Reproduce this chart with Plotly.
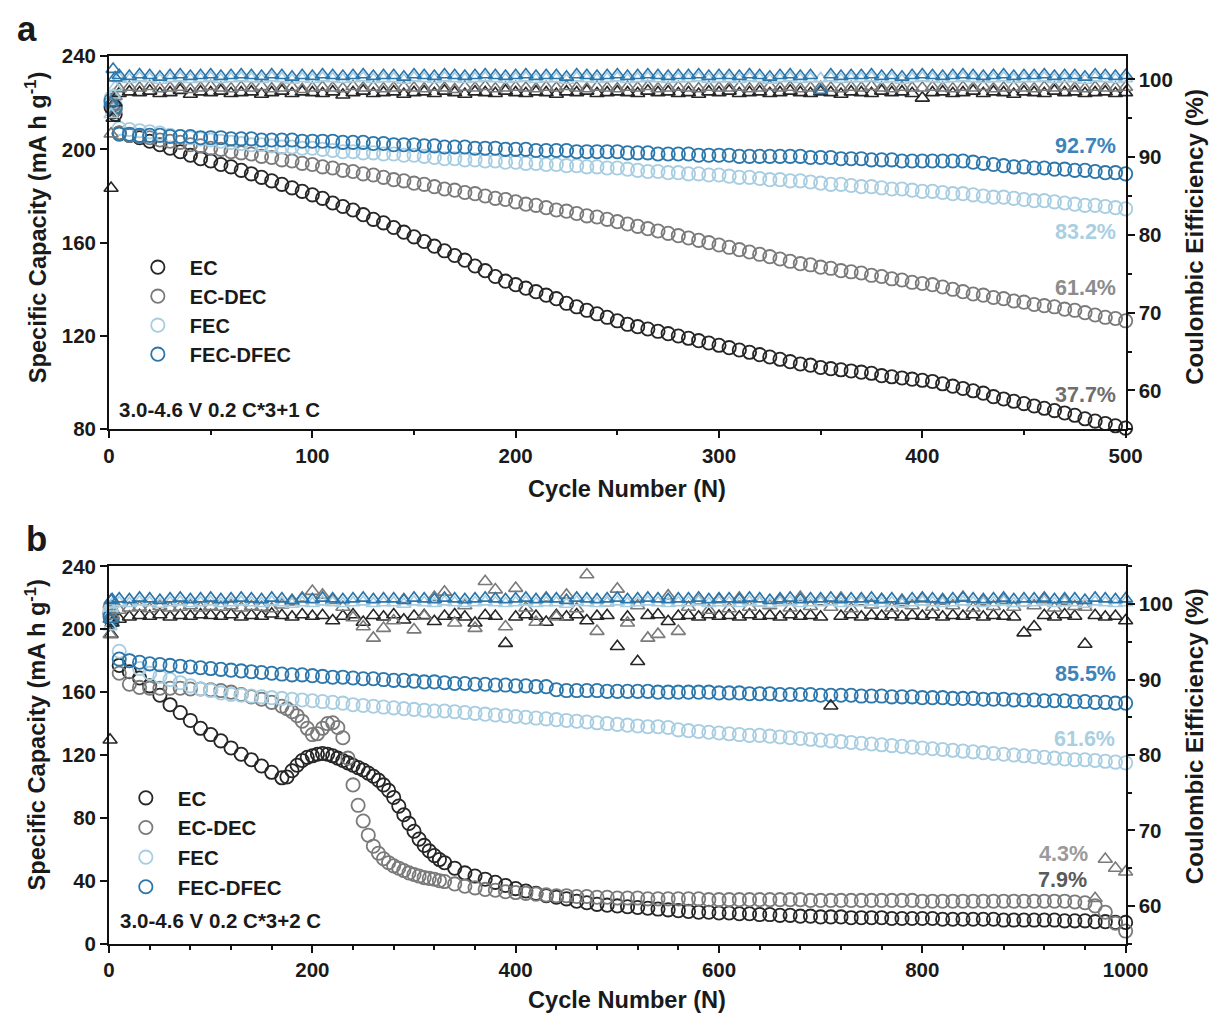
import plotly.graph_objects as go

# ---------------- DATA ----------------
SERIES = ["EC", "EC-DEC", "FEC", "FEC-DFEC"]

# Panel a : 3.0-4.6 V, 0.2 C*3 + 1 C, 500 cycles
CYC_A = [1, 2, 3] + list(range(5, 501, 5))

CAP_A_EC = [218, 216, 215,
    207, 206, 205, 203.5, 202, 200.5, 199, 197.5, 196, 195,
    193.5, 192.5, 191, 189.5, 188, 186.5, 185, 183.5, 182, 180.5,
    179, 177, 175.5, 174, 172, 170, 168.5, 166.5, 164.5, 162.5,
    160.5, 158.5, 156.5, 154.5, 152.5, 150, 148, 145.5, 143.5, 142,
    140.5, 139, 137.5, 136, 134, 132.5, 131, 129.5, 128, 126.5,
    125, 124, 123, 122, 121, 120, 119, 118, 117, 116,
    115, 114, 113, 112, 111, 110, 109, 108, 107.5, 106.5,
    106, 105.5, 105, 104.5, 104, 103, 102.5, 102, 101.5, 101,
    100.5, 99.5, 98.5, 97.5, 96.5, 95.5, 94, 93, 92, 91,
    90, 89, 88, 87, 86, 84.5, 83.5, 82.5, 81.5, 80.5]
CAP_A_ECDEC = [220, 218, 217,
    207, 206, 205.5, 205, 204, 203.5, 203, 202, 201.5, 200.5,
    200, 199, 198.5, 198, 197, 196.5, 195.5, 195, 194, 193.5,
    192.5, 192, 191, 190.5, 189.5, 189, 188, 187, 186.5, 185.5,
    185, 184, 183, 182.5, 181.5, 181, 180, 179, 178.5, 177.5,
    176.5, 176, 175, 174, 173.5, 172.5, 171.5, 171, 170, 169,
    168, 167, 166, 165, 164, 163, 162, 161, 160, 159,
    158, 157, 156, 155, 154, 153, 152, 151, 150.5, 149.5,
    149, 148, 147.5, 147, 146, 145.5, 144.5, 144, 143, 142.5,
    142, 141, 140, 139, 138, 137.5, 136.5, 136, 135, 134.5,
    133.5, 133, 132.5, 131.5, 131, 130, 129, 128, 127.5, 126.5]
CAP_A_FEC = [222, 220, 219,
    209, 208.5, 208, 207.5, 207, 206, 205.5, 205, 204.5, 204,
    203.5, 203, 202.5, 202, 202, 201.5, 201, 201, 200.5, 200.5,
    200, 199.5, 199, 199, 198.5, 198.5, 198, 198, 197.5, 197.5,
    197, 196.5, 196, 196, 195.5, 195.5, 195, 195, 194.5, 194.5,
    194, 194, 193.5, 193.5, 193, 193, 192.5, 192.5, 192, 192,
    191.5, 191, 190.5, 190.5, 190, 190, 189.5, 189.5, 189, 189,
    188.5, 188, 188, 187.5, 187, 187, 186.5, 186.5, 186, 185.5,
    185, 185, 184.5, 184, 184, 183.5, 183, 183, 182.5, 182,
    182, 181.5, 181, 181, 180.5, 180, 179.5, 179.5, 179, 178.5,
    178, 178, 177.5, 177, 176.5, 176, 176, 175.5, 175, 174.5]
CAP_A_FECDFEC = [221, 219, 218,
    206.5, 206.5, 206, 206, 206, 205.5, 205.5, 205.5, 205, 205,
    205, 204.5, 204.5, 204.5, 204, 204, 204, 204, 203.5, 203.5,
    203.5, 203.5, 203, 203, 203, 202.5, 202.5, 202, 202, 202,
    201.5, 201.5, 201, 201, 201, 200.5, 200.5, 200.5, 200, 200,
    200, 199.5, 199.5, 199.5, 199.5, 199, 199, 199, 199, 199,
    198.5, 198.5, 198.5, 198, 198, 198, 198, 197.5, 197.5, 197.5,
    197.5, 197, 197, 197, 197, 197, 197, 197, 196.5, 196.5,
    196.5, 196, 196, 196, 195.5, 195.5, 195.5, 195, 195, 195,
    195, 195, 195, 195, 194.5, 194, 193.5, 193, 192.5, 192.5,
    192, 192, 191.5, 191.5, 191, 191, 190.5, 190, 190, 189.5]

CE_A_EC = [86.0, 95.0, 97.0,
    98.2, 98.4, 98.3, 98.5, 98.2, 98.3, 98.6, 98.1, 98.4, 98.3,
    98.5, 98.2, 98.3, 98.4, 98.1, 98.3, 98.5, 98.2, 98.4, 98.3,
    98.2, 98.4, 98.0, 98.3, 98.5, 98.2, 98.3, 98.4, 98.1, 98.3,
    98.4, 98.2, 98.5, 98.3, 98.1, 98.4, 98.3, 98.2, 98.5, 98.3,
    98.2, 98.4, 98.3, 98.1, 98.4, 98.3, 98.5, 98.2, 98.3, 98.4,
    98.3, 98.2, 98.5, 98.3, 98.4, 98.2, 98.3, 98.1, 98.4, 98.3,
    98.5, 98.2, 98.3, 98.4, 98.2, 98.3, 98.5, 98.3, 98.2, 98.4,
    98.3, 98.1, 98.4, 98.3, 98.2, 98.5, 98.3, 98.4, 98.2, 97.6,
    98.3, 98.4, 98.2, 98.3, 98.5, 98.2, 98.4, 98.3, 98.1, 98.4,
    98.3, 98.2, 98.5, 98.3, 98.4, 98.2, 98.3, 98.4, 98.2, 98.3]
CE_A_ECDEC = [93.0, 96.5, 97.8,
    98.8, 99.0, 98.9, 99.1, 98.8, 98.9, 99.0, 98.7, 98.9, 99.1,
    98.9, 98.8, 99.0, 98.9, 99.1, 98.8, 98.9, 99.0, 98.7, 98.9,
    99.0, 98.9, 98.8, 99.1, 98.9, 99.0, 98.8, 98.9, 99.0, 98.9,
    98.8, 99.0, 98.9, 98.7, 99.0, 98.9, 99.1, 98.8, 98.9, 99.0,
    98.9, 98.8, 99.0, 98.9, 99.1, 98.9, 98.8, 99.0, 98.9, 98.8,
    99.0, 98.9, 99.1, 98.8, 98.9, 99.0, 98.9, 98.8, 99.0, 98.9,
    98.9, 99.0, 98.8, 98.9, 99.1, 98.9, 99.0, 98.8, 98.9, 99.0,
    98.9, 98.8, 99.0, 98.9, 99.1, 98.9, 98.8, 99.0, 98.9, 98.9,
    99.0, 98.9, 98.8, 99.0, 98.9, 99.1, 98.8, 98.9, 99.0, 98.9,
    98.8, 99.0, 98.9, 99.1, 98.9, 98.8, 99.0, 98.9, 98.9, 99.0]
CE_A_FEC = [95.5, 98.0, 99.0,
    100.1, 100.0, 100.2, 100.1, 99.9, 100.1, 100.2, 100.0, 100.1, 100.2,
    100.0, 100.1, 100.2, 100.1, 100.0, 100.2, 100.1, 99.9, 100.1, 100.0,
    100.2, 100.1, 100.0, 100.1, 100.2, 100.0, 100.1, 100.1, 99.9, 100.2,
    100.1, 100.0, 100.2, 100.1, 100.0, 100.1, 100.2, 100.1, 100.0, 100.1,
    100.2, 100.0, 100.1, 100.1, 99.9, 100.2, 100.1, 100.0, 100.1, 100.2,
    100.0, 100.1, 100.2, 100.1, 100.0, 100.1, 100.1, 100.2, 100.0, 100.1,
    100.1, 100.0, 100.2, 100.1, 99.9, 100.1, 100.2, 100.0, 100.1, 100.1,
    100.2, 100.0, 100.1, 100.1, 100.2, 100.0, 100.1, 99.9, 100.1, 100.2,
    100.1, 100.0, 100.1, 100.2, 100.1, 100.0, 100.1, 100.2, 100.0, 100.1,
    100.1, 100.2, 100.0, 100.1, 100.1, 99.9, 100.2, 100.1, 100.0, 100.1]
CE_A_FECDFEC = [97.0, 101.3, 100.2,
    100.5, 100.4, 100.6, 100.5, 100.3, 100.5, 100.6, 100.4, 100.5, 100.6,
    100.4, 100.5, 100.6, 100.5, 100.4, 100.6, 100.5, 100.3, 100.5, 100.4,
    100.6, 100.5, 100.4, 100.5, 100.6, 100.4, 100.5, 100.5, 100.3, 100.6,
    100.5, 100.4, 100.6, 100.5, 100.4, 100.5, 100.6, 100.5, 100.4, 100.5,
    100.6, 100.4, 100.5, 100.5, 100.3, 100.6, 100.5, 100.4, 100.5, 100.6,
    100.4, 100.5, 100.6, 100.5, 100.4, 100.5, 100.5, 100.6, 100.4, 100.5,
    100.5, 100.4, 100.6, 100.5, 100.3, 100.5, 100.6, 100.4, 100.5, 98.6,
    100.6, 100.4, 100.5, 100.5, 100.6, 100.4, 100.5, 100.3, 100.5, 100.6,
    100.5, 100.4, 100.5, 100.6, 100.5, 100.4, 100.5, 100.6, 100.4, 100.5,
    100.5, 100.6, 100.4, 100.5, 100.5, 100.3, 100.6, 100.5, 100.4, 100.5]

# Panel b : 3.0-4.6 V, 0.2 C*3 + 2 C, 1000 cycles
# EC / EC-DEC are read more finely (every 5 cycles) where they fall steeply
CYC_B_FINE = [1, 2, 3] + list(range(10, 170, 10)) + list(range(170, 330, 5)) + list(range(330, 1001, 10))
CYC_B = [1, 2, 3] + list(range(10, 1001, 10))

CAP_B_EC = [210, 208, 207,
    177, 173, 169, 164, 158, 152, 147, 142, 137, 133, 129, 124.5, 120.5, 117, 113, 109,
    105.5, 106, 110, 113.5, 116.5, 118.5, 119.5, 120.5, 121, 120.5,
    119.5, 118, 116.5, 115, 113.5, 112, 110.5, 108.5, 106.5, 104,
    101, 97.5, 93, 87.5, 82, 76.5, 71.5, 66.5, 62.5, 59,
    56, 53.5,
    51.5, 48, 45, 43, 41, 39, 37, 35, 33.5, 32,
    30.5, 29.5, 28.5, 27, 26, 25, 24.5, 24, 23.5, 23,
    22.5, 22, 21.5, 21, 20.5, 20, 20, 19.5, 19.5, 19,
    19, 18.5, 18.5, 18, 18, 17.5, 17.5, 17, 17, 17,
    16.5, 16.5, 16.5, 16.5, 16, 16, 16, 16, 16, 15.5,
    15.5, 15.5, 15.5, 15.5, 15.5, 15, 15, 15, 15, 15,
    15, 14.5, 14.5, 14.5, 14, 14, 13.5, 13.5]
CAP_B_ECDEC = [214, 211, 210,
    172, 165, 163, 162.5, 162.5, 162.5, 162.5, 162, 162, 161.5, 161, 160, 158.5, 157, 155.5, 153.5,
    151, 149.5, 147.5, 145, 141.5, 137, 133, 133.5, 137, 140,
    140.5, 137.5, 131, 118, 101, 88, 78, 69, 62, 57.5,
    54, 51.5, 49.5, 48, 46.5, 45, 44, 43, 42, 41.5,
    41, 40,
    39.5, 38, 36.5, 35.5, 34.5, 34, 33, 32.5, 32, 31.5,
    31, 30.5, 30.5, 30, 30, 29.5, 29.5, 29, 29, 29,
    28.5, 28.5, 28.5, 28.5, 28.5, 28.5, 28, 28, 28, 28,
    28, 28, 28, 28, 28, 28, 27.5, 27.5, 27.5, 27.5,
    27.5, 27.5, 27.5, 27.5, 27.5, 27.5, 27.5, 27, 27, 27,
    27, 27, 27, 27, 27, 27, 27, 27, 27, 27,
    27, 27, 26.5, 26, 24, 20, 13, 8]
CAP_B_FEC = [212, 210, 209,
    186, 180, 175, 172, 170, 168, 166, 164, 162, 161, 159.5, 158.5, 158, 157.5, 157, 156.5,
    156, 155.5, 155, 154.5, 154, 153.5, 153, 152, 151.5, 151,
    150.5, 150, 149.5, 149, 148.5, 148,
    148, 147.5, 147, 146.5, 146, 145.5, 145, 144.5, 144, 143.5,
    143, 142.5, 142, 141.5, 141, 140.5, 140, 139.5, 139, 138.5,
    138, 138, 137.5, 136, 135.5, 135, 134.5, 134, 133.5, 133,
    132.5, 132.5, 132, 131.5, 131, 130.5, 130, 129.5, 129, 128.5,
    128, 127.5, 127, 126.5, 126, 125.5, 125, 124.5, 124, 123.5,
    123, 122.5, 122, 121.5, 121, 120.5, 120, 119.5, 119, 118.5,
    118, 117.5, 117, 117, 116.5, 116, 115.5, 115]
CAP_B_FECDFEC = [208, 206, 205,
    181, 180, 179, 178, 177.5, 177, 176.5, 176, 175.5, 175, 174.5, 174, 173.5, 173, 172.5, 172,
    171.5, 171, 171, 170.5, 170, 169.5, 169.5, 169, 168.5, 168.5,
    168, 167.5, 167.5, 167, 166.5, 166.5,
    166, 165.5, 165.5, 165, 165, 164.5, 164.5, 164, 164, 163.5,
    163.5, 161.5, 161, 161, 161, 161, 160.5, 160.5, 160.5, 160.5,
    160.5, 160, 160, 160, 160, 160, 160, 159.5, 159.5, 159.5,
    159, 159, 159, 158.5, 158.5, 158.5, 158.5, 158, 158, 158,
    158, 157.5, 157.5, 157.5, 157, 157, 157, 156.5, 156.5, 156.5,
    156, 156, 156, 155.5, 155.5, 155.5, 155, 155, 155, 154.5,
    154.5, 154.5, 154, 154, 153.5, 153.5, 153, 153]

CE_B_EC = [82.0, 96.0, 97.5,
    98.0, 98.3, 98.5, 98.4, 98.6, 98.3, 98.5, 98.4, 98.6, 98.5,
    98.4, 98.6, 98.3, 98.5, 98.4, 98.7, 98.5, 98.3, 98.6, 98.4,
    98.5, 97.8, 98.4, 98.6, 97.6, 98.5, 98.3, 98.6, 97.9, 98.4,
    98.5, 97.7, 98.4, 98.6, 98.3, 97.5, 98.5, 98.4, 94.8, 98.3,
    98.6, 98.4, 97.6, 98.5, 98.3, 98.6, 97.8, 98.4, 98.5, 94.4,
    98.3, 92.4, 98.5, 98.6, 97.7, 98.4, 98.5, 98.3, 98.6, 98.4,
    98.5, 98.3, 98.6, 98.4, 98.5, 98.3, 98.6, 98.4, 98.5, 98.3,
    86.5, 98.4, 98.6, 98.3, 98.5, 98.4, 98.6, 98.3, 98.5, 98.4,
    98.6, 98.3, 98.5, 98.4, 98.6, 98.3, 98.5, 98.4, 98.3, 96.2,
    97.0, 98.5, 98.3, 98.6, 98.4, 94.7, 98.5, 98.3, 98.4, 97.8]
CE_B_ECDEC = [96.0, 98.0, 98.5,
    99.2, 99.5, 99.6, 99.4, 99.7, 99.5, 99.6, 99.8, 99.5, 99.7,
    99.6, 99.8, 99.5, 99.7, 99.6, 99.4, 99.9, 100.3, 100.8, 101.7,
    101.2, 100.5, 99.6, 98.2, 97.0, 95.5, 96.8, 97.8, 100.6, 96.6,
    98.4, 100.9, 101.6, 97.5, 99.8, 96.8, 103.0, 101.9, 97.0, 102.1,
    99.5, 97.6, 100.8, 98.3, 101.2, 99.4, 103.9, 96.4, 100.2, 102.0,
    97.5, 99.8, 95.5, 96.0, 101.1, 96.4, 99.6, 100.4, 99.2, 100.6,
    99.4, 100.8, 99.6, 100.2, 99.8, 100.5, 99.5, 100.9, 99.7, 100.3,
    99.6, 100.8, 99.4, 100.3, 99.9, 100.6, 99.5, 100.2, 99.8, 100.7,
    99.6, 100.4, 99.8, 100.9, 99.5, 100.3, 99.7, 100.5, 99.6, 100.2,
    99.8, 100.6, 99.5, 100.4, 99.7, 99.6, 61.0, 66.2, 65.0, 64.5]
CE_B_FEC = [97.0, 99.5, 100.0,
    100.2, 100.1, 100.3, 100.2, 100.0, 100.2, 100.3, 100.1, 100.2, 100.3,
    100.1, 100.2, 100.3, 100.2, 100.1, 100.3, 100.2, 100.0, 100.2, 100.1,
    100.3, 100.2, 100.1, 100.2, 100.3, 100.1, 100.2, 100.2, 100.0, 100.3,
    100.2, 100.1, 100.3, 100.2, 100.1, 100.2, 100.3, 100.2, 100.1, 100.2,
    100.3, 100.1, 100.2, 100.2, 100.0, 100.3, 100.2, 100.1, 100.2, 100.3,
    100.1, 100.2, 100.3, 100.2, 100.1, 100.2, 100.2, 100.3, 100.1, 100.2,
    100.2, 100.1, 100.3, 100.2, 100.0, 100.2, 100.3, 100.1, 100.2, 100.2,
    100.3, 100.1, 100.2, 100.2, 100.3, 100.1, 100.2, 100.0, 100.2, 100.3,
    100.2, 100.1, 100.2, 100.3, 100.2, 100.1, 100.2, 100.3, 100.1, 100.2,
    100.2, 100.3, 100.1, 100.2, 100.2, 100.0, 100.3, 100.2, 100.1, 100.2]
CE_B_FECDFEC = [98.0, 100.5, 100.6,
    100.7, 100.6, 100.8, 100.7, 100.5, 100.7, 100.8, 100.6, 100.7, 100.8,
    100.6, 100.7, 100.8, 100.7, 100.6, 100.8, 100.7, 100.5, 100.7, 100.6,
    100.8, 100.7, 100.6, 100.7, 100.8, 100.6, 100.7, 100.7, 100.5, 100.8,
    100.7, 100.6, 100.8, 100.7, 100.6, 100.7, 100.8, 100.7, 100.6, 100.7,
    100.8, 100.6, 100.7, 100.7, 100.5, 100.8, 100.7, 100.6, 100.7, 100.8,
    100.6, 100.7, 100.8, 100.7, 100.6, 100.7, 100.7, 100.8, 100.6, 100.7,
    100.7, 100.6, 100.8, 100.7, 100.5, 100.7, 100.8, 100.6, 100.7, 100.7,
    100.8, 100.6, 100.7, 100.7, 100.8, 100.6, 100.7, 100.5, 100.7, 100.8,
    100.7, 100.6, 100.7, 100.8, 100.7, 100.6, 100.7, 100.8, 100.6, 100.7,
    100.7, 100.8, 100.6, 100.7, 100.7, 100.5, 100.8, 100.7, 100.6, 100.7]

RETENTION_A = ["92.7%", "83.2%", "61.4%", "37.7%"]
RETENTION_B = ["85.5%", "61.6%", "4.3%", "7.9%"]

X_TICKS_A = [0, 100, 200, 300, 400, 500]
X_TICKS_B = [0, 200, 400, 600, 800, 1000]
CAP_TICKS_A = [80, 120, 160, 200, 240]
CAP_TICKS_B = [0, 40, 80, 120, 160, 200, 240]
CE_TICKS = [60, 70, 80, 90, 100]

# ---------------- STYLE ----------------
# The photographed page shows the figure offset by (OX, OY) and scaled by
# (SX, SY); target positions (in picture pixels) are mapped back through this.
OX, OY, SX, SY = 6.0, 11.0, 0.976, 0.977
W, H = 1236, 1030
FS = 1 / SX
FONT = "Liberation Sans, Arial, sans-serif"
COL = {"EC": "#262626", "EC-DEC": "#7a7a7a", "FEC": "#a7cde1", "FEC-DFEC": "#2b76ab"}
TXT = "#1a1a1a"


def gx(p):
    return (p - OX) / SX


def gy(p):
    return (p - OY) / SY


def fx(p):
    return gx(p) / W


def fy(p):
    return 1 - gy(p) / H


def fsz(s):
    return round(s * FS, 1)


fig = go.Figure()

cap_a = {"EC": CAP_A_EC, "EC-DEC": CAP_A_ECDEC, "FEC": CAP_A_FEC, "FEC-DFEC": CAP_A_FECDFEC}
ce_a = {"EC": CE_A_EC, "EC-DEC": CE_A_ECDEC, "FEC": CE_A_FEC, "FEC-DFEC": CE_A_FECDFEC}
cap_b = {"EC": (CYC_B_FINE, CAP_B_EC), "EC-DEC": (CYC_B_FINE, CAP_B_ECDEC),
         "FEC": (CYC_B, CAP_B_FEC), "FEC-DFEC": (CYC_B, CAP_B_FECDFEC)}
ce_b = {"EC": CE_B_EC, "EC-DEC": CE_B_ECDEC, "FEC": CE_B_FEC, "FEC-DFEC": CE_B_FECDFEC}

CAP_MK = dict(symbol="circle-open", size=fsz(13))
CE_MK = dict(symbol="triangle-up-open", size=fsz(12))

for s in SERIES:
    fig.add_trace(go.Scatter(
        x=CYC_A, y=cap_a[s], mode="markers", name=s, legend="legend",
        xaxis="x", yaxis="y", cliponaxis=False,
        marker=dict(**CAP_MK, color=COL[s], line=dict(width=1.8, color=COL[s]))))
for s in SERIES:
    fig.add_trace(go.Scatter(
        x=CYC_A, y=ce_a[s], mode="markers", name=s, showlegend=False,
        xaxis="x", yaxis="y2", cliponaxis=False,
        marker=dict(**CE_MK, color=COL[s], line=dict(width=1.6, color=COL[s]))))
for s in SERIES:
    xs, ys = cap_b[s]
    fig.add_trace(go.Scatter(
        x=xs, y=ys, mode="markers", name=s, legend="legend2",
        xaxis="x2", yaxis="y3", cliponaxis=False,
        marker=dict(**CAP_MK, color=COL[s], line=dict(width=1.8, color=COL[s]))))
for s in SERIES:
    fig.add_trace(go.Scatter(
        x=CYC_B, y=ce_b[s], mode="markers", name=s, showlegend=False,
        xaxis="x2", yaxis="y4", cliponaxis=False,
        marker=dict(**CE_MK, color=COL[s], line=dict(width=1.6, color=COL[s]))))

tickfont = dict(family=FONT, size=fsz(20), color=TXT, weight="bold")
axcommon = dict(showline=True, linewidth=2, linecolor="#111", ticks="outside", ticklen=7,
                tickwidth=2, tickcolor="#111", tickfont=tickfont, showgrid=False, zeroline=False)
minor_common = dict(ticklen=4, tickwidth=2, tickcolor="#111", ticks="outside")

XD = [fx(109), fx(1125)]
legend_font = dict(family=FONT, size=20, color=TXT, weight="bold")
fig.update_layout(
    width=W, height=H, margin=dict(l=0, r=0, t=0, b=0),
    paper_bgcolor="white", plot_bgcolor="white",
    font=dict(family=FONT, color=TXT),
    xaxis=dict(domain=XD, anchor="y", range=[0, 500], tickvals=X_TICKS_A, mirror=True,
               minor=dict(dtick=50, **minor_common), **axcommon),
    yaxis=dict(domain=[fy(428), fy(55)], anchor="x", range=[80, 240], tickvals=CAP_TICKS_A,
               mirror=True, **axcommon),
    yaxis2=dict(overlaying="y", anchor="x", side="right", range=[55, 103], tickvals=CE_TICKS,
                minor=dict(dtick=5, **minor_common), **axcommon),
    xaxis2=dict(domain=XD, anchor="y3", range=[0, 1000], tickvals=X_TICKS_B, mirror=True,
                minor=dict(dtick=40, **minor_common), **axcommon),
    yaxis3=dict(domain=[fy(942), fy(565)], anchor="x2", range=[0, 240], tickvals=CAP_TICKS_B,
                mirror=True, **axcommon),
    yaxis4=dict(overlaying="y3", anchor="x2", side="right", range=[55, 105], tickvals=CE_TICKS,
                minor=dict(dtick=5, **minor_common), **axcommon),
    legend=dict(x=(gx(157) - 32) / W, y=1 - (gy(267) - 21) / H, xanchor="left", yanchor="top",
                bgcolor="rgba(0,0,0,0)", itemwidth=54, tracegroupgap=0, font=legend_font),
    legend2=dict(x=(gx(145) - 32) / W, y=1 - (gy(797) - 21) / H, xanchor="left", yanchor="top",
                 bgcolor="rgba(0,0,0,0)", itemwidth=54, tracegroupgap=0,
                 font=dict(legend_font, size=20.5)),
)

ann = []


def add_text(text, x, y, size, color=TXT, xanchor="center", angle=0):
    ann.append(dict(text=text, x=fx(x), y=fy(y), xref="paper", yref="paper", showarrow=False,
                    xanchor=xanchor, yanchor="middle", textangle=angle,
                    font=dict(family=FONT, size=fsz(size), color=color, weight="bold")))


add_text("a", 27, 27, 34)
add_text("b", 36, 537, 34)
for yc in (227, 734):
    add_text("Specific Capacity (mA h g<sup>-1</sup>)", 36, yc, 23, angle=-90)
for yc in (236, 735):
    add_text("Coulombic Eifficiency (%)", 1194, yc, 23.5, angle=-90)
add_text("Cycle Number (N)", 627, 488, 23)
add_text("Cycle Number (N)", 627, 998, 23)
add_text("3.0-4.6 V 0.2 C*3+1 C", 117, 408, 20, xanchor="left")
add_text("3.0-4.6 V 0.2 C*3+2 C", 118, 919, 20, xanchor="left")

ret_col_a = ["#3d84ba", "#a9cfe2", "#8c8c8c", "#6e6e6e"]
ret_y_a = [145, 231, 287, 394]
for t, c, yy in zip(RETENTION_A, ret_col_a, ret_y_a):
    add_text(t, 1117, yy, 21, color=c, xanchor="right")
ret_col_b = ["#3d84ba", "#a9cfe2", "#9a9a9a", "#5a5a5a"]
ret_pos_b = [(1117, 673), (1116, 738), (1089, 852), (1088, 878)]
for t, c, (xx, yy) in zip(RETENTION_B, ret_col_b, ret_pos_b):
    add_text(t, xx, yy, 21, color=c, xanchor="right")

fig.update_layout(annotations=ann)
fig.write_html("out.html")
